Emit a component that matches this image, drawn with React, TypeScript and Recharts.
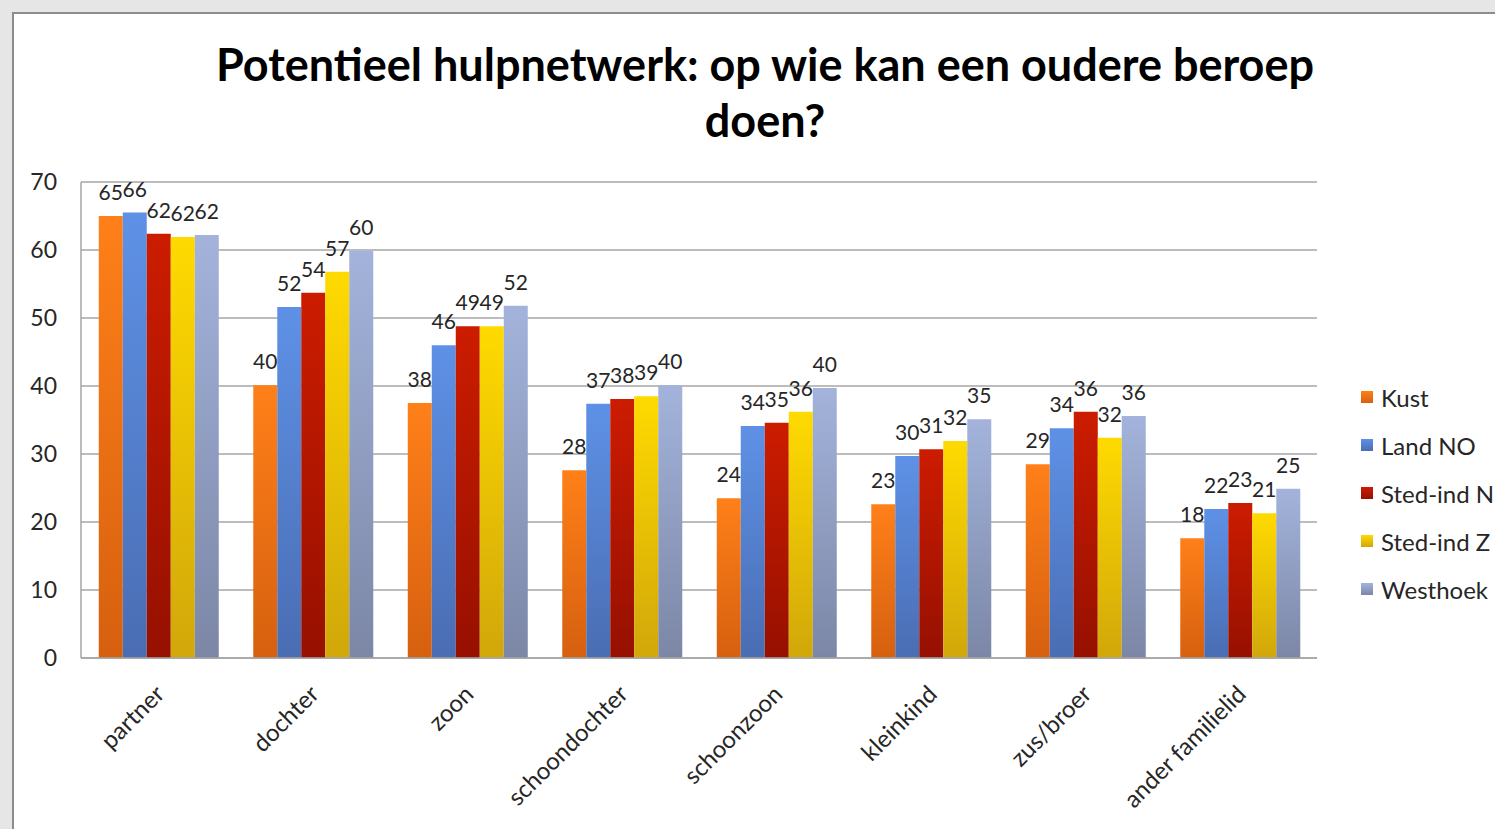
import React from 'react';
import { BarChart, Bar, XAxis, YAxis, CartesianGrid, LabelList } from 'recharts';

const categories = ['partner', 'dochter', 'zoon', 'schoondochter', 'schoonzoon', 'kleinkind', 'zus/broer', 'ander familielid'];

const kust = [65.0, 40.1, 37.5, 27.6, 23.5, 22.6, 28.5, 17.6];
const landNO = [65.5, 51.6, 46.0, 37.4, 34.1, 29.7, 33.8, 21.9];
const stedIndN = [62.4, 53.7, 48.8, 38.1, 34.6, 30.7, 36.2, 22.8];
const stedIndZ = [61.9, 56.8, 48.8, 38.5, 36.2, 31.9, 32.4, 21.3];
const westhoek = [62.2, 59.9, 51.8, 40.1, 39.7, 35.1, 35.6, 24.9];

const yTicks = [0, 10, 20, 30, 40, 50, 60, 70];

const SERIES = [
    { key: 'kust', name: 'Kust', values: kust, top: '#ff8019', bottom: '#d6600f' },
    { key: 'landNO', name: 'Land NO', values: landNO, top: '#5e91e6', bottom: '#4a6db3' },
    { key: 'stedIndN', name: 'Sted-ind N', values: stedIndN, top: '#cc1c00', bottom: '#961000' },
    { key: 'stedIndZ', name: 'Sted-ind Z', values: stedIndZ, top: '#ffda00', bottom: '#d1a70a' },
    { key: 'westhoek', name: 'Westhoek', values: westhoek, top: '#a3b3db', bottom: '#7c87a6' },
];

const data = categories.map((cat, i) => {
    const row: Record<string, string | number> = { category: cat };
    SERIES.forEach((s) => {
        row[s.key] = s.values[i];
    });
    return row;
});

const FONT = 'Lato, "Open Sans", sans-serif';

const XTick = ({ x, y, payload }: any) => (
    <g transform={`translate(${x + 2},${y + 24})`}>
        <text transform="rotate(-45)" textAnchor="end" dy={8} fontSize={24} fill="#262626" fontFamily={FONT}>
            {payload.value}
        </text>
    </g>
);

export default function App() {
    return (
        <div style={{ position: 'fixed', left: 0, top: 0, width: 1495, height: 829, background: '#e6e6e6', overflow: 'hidden' }}>
            <div
                style={{
                    position: 'absolute',
                    left: 12,
                    top: 12,
                    width: 1600,
                    height: 900,
                    background: '#fff',
                    borderLeft: '2px solid #8c8c8c',
                    borderTop: '2px solid #8c8c8c',
                }}
            />
            <div
                style={{
                    position: 'absolute',
                    left: 0,
                    width: 1530,
                    top: 36,
                    textAlign: 'center',
                    fontFamily: FONT,
                    fontWeight: 700,
                    fontSize: 45,
                    lineHeight: '56px',
                    color: '#000',
                }}
            >
                Potentieel hulpnetwerk: op wie kan een oudere beroep
                <br />
                doen?
            </div>
            <div style={{ position: 'absolute', left: 0, top: 0 }}>
                <BarChart
                    width={1495}
                    height={829}
                    data={data}
                    margin={{ top: 182, right: 178, left: 21, bottom: 21 }}
                    barCategoryGap="11.5%"
                    barGap={0}
                >
                    <defs>
                        {SERIES.map((s) => (
                            <linearGradient key={s.key} id={`grad-${s.key}`} x1="0" y1="0" x2="0" y2="1">
                                <stop offset="0%" stopColor={s.top} />
                                <stop offset="100%" stopColor={s.bottom} />
                            </linearGradient>
                        ))}
                    </defs>
                    <CartesianGrid vertical={false} stroke="#a6a6a6" strokeWidth={1.5} />
                    <XAxis
                        dataKey="category"
                        height={150}
                        interval={0}
                        tick={<XTick />}
                        tickLine={false}
                        axisLine={{ stroke: '#a6a6a6', strokeWidth: 1.5 }}
                    />
                    <YAxis
                        width={60}
                        domain={[0, 70]}
                        ticks={yTicks}
                        tickSize={0}
                        tickMargin={24}
                        tickLine={false}
                        axisLine={{ stroke: '#a6a6a6', strokeWidth: 1.5 }}
                        tick={{ fontSize: 23, fill: '#262626', fontFamily: FONT }}
                    />
                    {SERIES.map((s) => (
                        <Bar key={s.key} dataKey={s.key} name={s.name} fill={`url(#grad-${s.key})`} isAnimationActive={false}>
                            <LabelList
                                dataKey={s.key}
                                position="top"
                                offset={16}
                                formatter={(v: any) => Math.round(Number(v))}
                                style={{ fontSize: 21, fill: '#262626', fontFamily: FONT }}
                            />
                        </Bar>
                    ))}
                </BarChart>
            </div>
            <div style={{ position: 'absolute', left: 1361, top: 373, fontFamily: FONT, fontSize: 24, color: '#262626' }}>
                {SERIES.map((s) => (
                    <div key={s.key} style={{ display: 'flex', alignItems: 'center', height: 48, whiteSpace: 'nowrap' }}>
                        <span
                            style={{
                                width: 12,
                                height: 12,
                                marginRight: 8,
                                flexShrink: 0,
                                background: `linear-gradient(${s.top}, ${s.bottom})`,
                            }}
                        />
                        {s.name}
                    </div>
                ))}
            </div>
        </div>
    );
}
